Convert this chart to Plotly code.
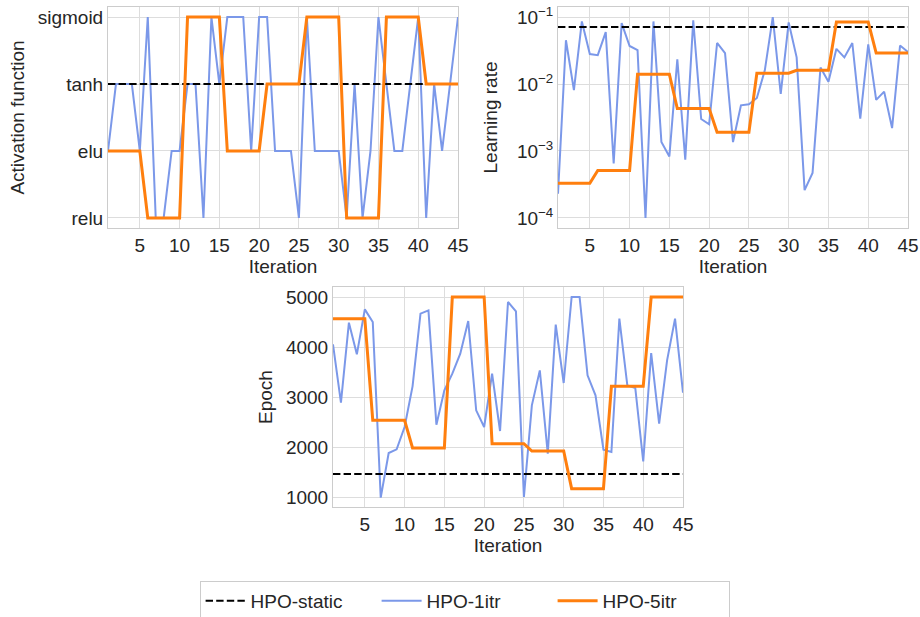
import plotly.graph_objects as go

iterations = list(range(1, 46))

# Activation function
act_categories = ["relu", "elu", "tanh", "sigmoid"]
act_static = ["tanh"] * 45
act_1itr = ["elu", "tanh", "tanh", "tanh", "elu", "sigmoid", "relu", "relu", "elu", "elu",
            "tanh", "tanh", "relu", "sigmoid", "tanh", "sigmoid", "sigmoid", "sigmoid", "elu", "sigmoid",
            "sigmoid", "elu", "elu", "elu", "relu", "sigmoid", "elu", "elu", "elu", "elu",
            "relu", "tanh", "relu", "elu", "sigmoid", "tanh", "elu", "elu", "tanh", "sigmoid",
            "relu", "tanh", "elu", "tanh", "sigmoid"]
act_5itr = (["elu"] * 5 + ["relu"] * 5 + ["sigmoid"] * 5 + ["elu"] * 5 + ["tanh"] * 5 +
            ["sigmoid"] * 5 + ["relu"] * 5 + ["sigmoid"] * 5 + ["tanh"] * 5)

# Learning rate
lr_static = [0.0708] * 45
lr_1itr = [2.3e-4, 0.045, 0.0081, 0.086, 0.028, 0.027, 0.0596, 6.5e-4, 0.081, 0.037,
           0.032, 1.0e-4, 0.086, 1.36e-3, 8.3e-4, 0.0234, 7.4e-4, 0.089, 3.0e-3, 2.5e-3,
           0.041, 0.029, 1.36e-3, 4.8e-3, 5.0e-3, 6.2e-3, 0.016, 0.1, 7.1e-3, 0.083,
           0.025, 2.6e-4, 4.7e-4, 0.0176, 0.0108, 0.0335, 0.025, 0.041, 3.05e-3, 0.039,
           5.8e-3, 7.7e-3, 2.2e-3, 0.0375, 0.030]
lr_5itr = ([3.3e-4] * 5 + [5.1e-4] * 5 + [0.014] * 5 + [4.3e-3] * 5 + [1.9e-3] * 5 +
           [0.0145] * 5 + [0.016] * 5 + [0.084] * 5 + [0.029] * 5)

# Epoch
ep_static = [1460] * 45
ep_1itr = [4053, 2887, 4487, 3853, 4753, 4500, 987, 1880, 1953, 2400,
           3213, 4667, 4733, 2447, 3133, 3467, 3867, 4520, 2733, 2400,
           3467, 2320, 4900, 4713, 1000, 2833, 3533, 1867, 4447, 3280,
           5000, 5000, 3433, 3033, 1947, 1900, 4567, 3233, 3180, 1713,
           3880, 2467, 3733, 4567, 3087]
ep_5itr = ([4567] * 5 + [2533] * 5 + [1980] * 5 + [5000] * 5 + [2067] * 5 +
           [1920] * 5 + [1167] * 5 + [3213] * 5 + [5000] * 5)

x_ticks = [5, 10, 15, 20, 25, 30, 35, 40, 45]
lr_tickvals = [1e-4, 1e-3, 1e-2, 1e-1]
lr_ticktext = ["10<sup>−4</sup>", "10<sup>−3</sup>", "10<sup>−2</sup>", "10<sup>−1</sup>"]
ep_tickvals = [1000, 2000, 3000, 4000, 5000]

BLUE = "#7b98e9"
ORANGE = "#ff7f0e"
DASH = "7.4px,3.2px"
FONT = "Liberation Sans, Arial, sans-serif"
TXT = "#262626"
FS = 19

fig = go.Figure()

panels = [
    ("x", "y", act_static, act_1itr, act_5itr),
    ("x2", "y2", lr_static, lr_1itr, lr_5itr),
    ("x3", "y3", ep_static, ep_1itr, ep_5itr),
]
for i, (xa, ya, s, one, five) in enumerate(panels):
    show = i == 0
    fig.add_trace(go.Scatter(x=iterations, y=one, mode="lines", name="HPO-1itr",
                             line=dict(color=BLUE, width=2), xaxis=xa, yaxis=ya,
                             showlegend=show, legendrank=2))
    fig.add_trace(go.Scatter(x=iterations, y=s, mode="lines", name="HPO-static",
                             line=dict(color="black", width=2, dash=DASH), xaxis=xa, yaxis=ya,
                             showlegend=show, legendrank=1))
    fig.add_trace(go.Scatter(x=iterations, y=five, mode="lines", name="HPO-5itr",
                             line=dict(color=ORANGE, width=3), xaxis=xa, yaxis=ya,
                             showlegend=show, legendrank=3))

W, H = 920, 617
def xd(a, b):
    return [a / W, b / W]
def yd(top, bottom):
    return [1 - bottom / H, 1 - top / H]

tfont = dict(size=FS, color=TXT, family=FONT)
common_axis = dict(showline=True, linecolor="#cccccc", linewidth=1, mirror=True,
                   showgrid=True, gridcolor="#dddddd", gridwidth=1, zeroline=False,
                   ticks="", tickfont=tfont)
xcommon = dict(common_axis, range=[1, 45], tickvals=x_ticks,
               title=dict(text="Iteration", font=tfont, standoff=2))

fig.update_layout(
    width=W, height=H,
    margin=dict(l=0, r=0, t=0, b=0, autoexpand=False),
    paper_bgcolor="white", plot_bgcolor="white",
    font=dict(family=FONT, color=TXT, size=FS),
    xaxis=dict(xcommon, domain=xd(108, 458), anchor="y"),
    yaxis=dict(common_axis, domain=yd(7, 228), anchor="x", type="category",
               categoryorder="array", categoryarray=act_categories, range=[-0.15, 3.15],
               title=dict(text="Activation function", font=tfont, standoff=8)),
    xaxis2=dict(xcommon, domain=xd(558, 908), anchor="y2"),
    yaxis2=dict(common_axis, domain=yd(7, 228), anchor="x2", type="log", range=[-4.15, -0.85],
                tickvals=lr_tickvals, ticktext=lr_ticktext,
                title=dict(text="Learning rate", font=tfont, standoff=14)),
    xaxis3=dict(xcommon, domain=xd(333, 683), anchor="y3"),
    yaxis3=dict(common_axis, domain=yd(287, 507), anchor="x3", range=[800, 5200],
                tickvals=ep_tickvals,
                title=dict(text="Epoch", font=tfont, standoff=8)),
    legend=dict(orientation="h", x=0.505, xanchor="center", y=1 - 581 / H, yanchor="top",
                bordercolor="#cccccc", borderwidth=1, bgcolor="white",
                font=tfont, entrywidth=121, itemwidth=40, traceorder="normal"),
)

fig.write_html("out.html", config={"displayModeBar": False},
               post_script="document.body.style.margin='0px';")
